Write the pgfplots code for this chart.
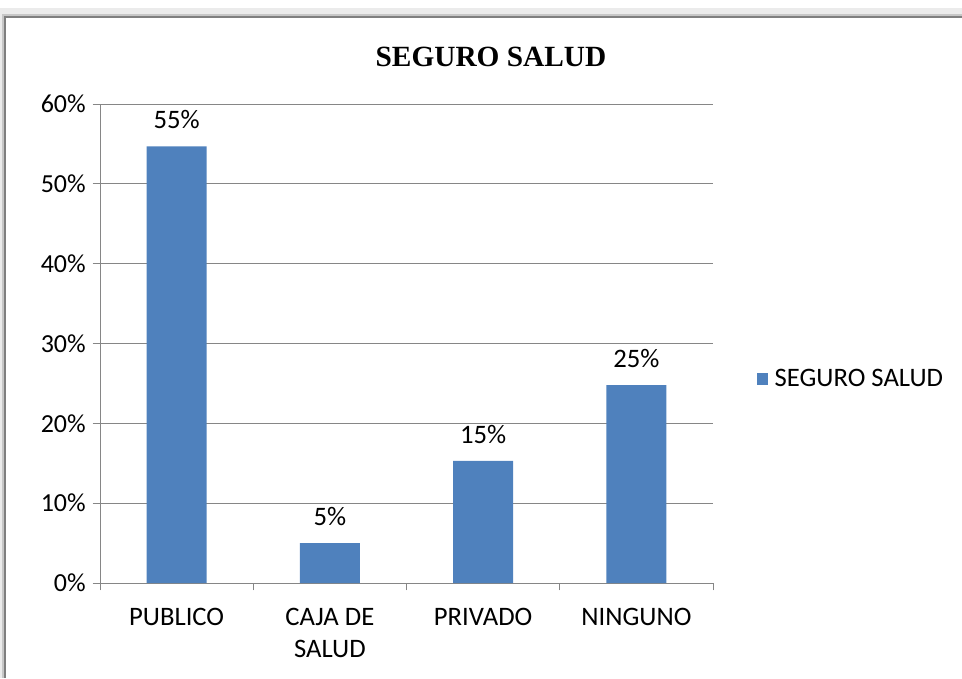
\documentclass[border=0pt]{standalone}
\usepackage{pgfplots}
\pgfplotsset{compat=1.18}
\usepackage{fontspec}
\setmainfont{Carlito}
\newfontfamily\titlefont{Liberation Serif}
\definecolor{barblue}{HTML}{4F81BD}
\definecolor{gridgray}{HTML}{868686}
\definecolor{framegray}{HTML}{7F7F7F}

\begin{document}
\begin{tikzpicture}[x=0.75pt,y=0.75pt]
\path[use as bounding box] (0,0) rectangle (962,678);
% chart frame with soft shadow
\draw[black!8, line width=4.5pt] (0,0) -- (0,667) -- (962,667);
\draw[black!22, line width=1.5pt] (3,0) -- (3,663) -- (962,663);
\draw[framegray, line width=1.5pt] (5,0) -- (5,661) -- (962,661);
\node[font=\titlefont\fontsize{22}{26}\selectfont\bfseries] at (491,621) {SEGURO SALUD};
\begin{axis}[
    at={(75pt,71.25pt)}, anchor=south west,
    width=459.75pt, height=359.25pt, scale only axis,
    xmin=0, xmax=4, ymin=0, ymax=60,
    axis x line*=bottom, axis y line*=left,
    axis line style={gridgray, line width=0.75pt},
    ymajorgrids, grid style={gridgray, line width=0.75pt},
    tick style={gridgray, line width=0.75pt},
    tick align=outside, major tick length=5.5pt,
    ytick={0,10,...,60},
    yticklabel={\pgfmathprintnumber{\tick}\%},
    yticklabel style={font=\fontsize{19.5}{24}\selectfont, inner sep=0pt, xshift=-5pt},
    /pgf/number format/assume math mode=true,
    xtick={0,1,2,3,4}, xticklabel=\empty,
    extra x ticks={0.5,1.5,2.5,3.5},
    extra x tick labels={PUBLICO,{CAJA DE\\SALUD},PRIVADO,NINGUNO},
    extra x tick style={tick style={draw=none},
        xticklabel style={font=\fontsize{20}{24}\selectfont, align=center, anchor=north, inner sep=0pt, yshift=-13pt}},
    ybar, bar width=0.39,
    nodes near coords={\pgfmathprintnumber[fixed,precision=0]{\pgfplotspointmeta}\%},
    every node near coord/.append style={font=\fontsize{20}{24}\selectfont, black, anchor=base, inner sep=0pt, yshift=13pt},
    legend style={at={(1.071,0.426)}, anchor=west, draw=none, fill=none,
        font=\fontsize{20}{24}\selectfont, inner sep=0pt},
    legend image code/.code={\fill[#1] (0pt,-4.2pt) rectangle (8.4pt,4.2pt); \path (11.4pt,0pt);},
]
\addplot[fill=barblue, draw=none] coordinates {
    (0.5,54.7)
    (1.5,5.0)
    (2.5,15.3)
    (3.5,24.8)
};
\legend{SEGURO SALUD}
\end{axis}
\end{tikzpicture}
\end{document}
